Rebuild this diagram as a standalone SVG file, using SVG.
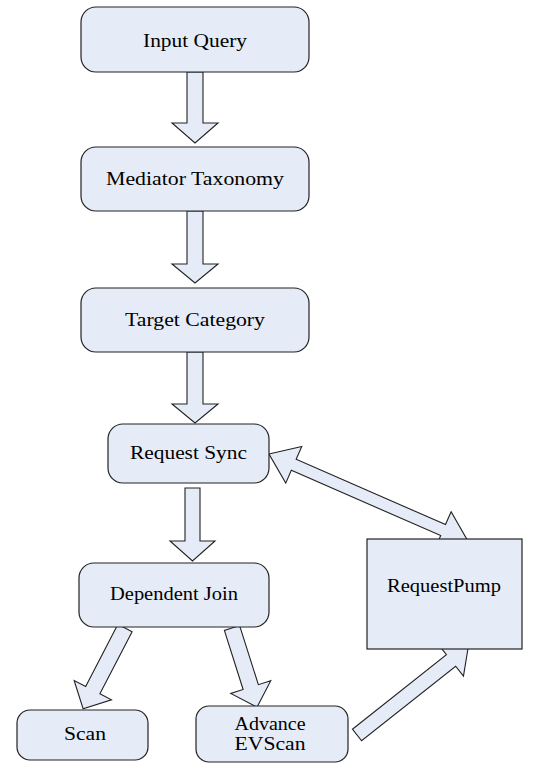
<svg xmlns="http://www.w3.org/2000/svg" width="550" height="763" viewBox="0 0 550 763">
<style>
.box{fill:#e6ecf7;stroke:#222;stroke-width:1.2}
.arr{fill:#e6ecf7;stroke:#222;stroke-width:1.1;stroke-linejoin:miter}
text{font-family:"Liberation Serif","Times New Roman",serif;font-size:18px;fill:#000;text-anchor:middle}
</style>
<rect width="550" height="763" fill="#fff"/>
<g id="connectors">
<polygon class="arr" points="187,72 203,72 203,123 218,123 195,143 172,123 187,123"/>
<polygon class="arr" points="187,211 203,211 203,264 218,264 195,283 172,264 187,264"/>
<polygon class="arr" points="187,352 203,352 203,404 218,404 195,423 172,404 187,404"/>
<polygon class="arr" points="185,488 200,488 200,541 215,541 192.5,561 170,541 185,541"/>
<polygon class="arr" transform="translate(269,454) rotate(23.6)" points="0,0 27,-20 27,-6 190,-6 190,-20 217,0 190,20 190,6 27,6 27,20"/>
<polygon class="arr" transform="translate(125,628) rotate(117.4)" points="0,-8 70,-8 70,-21 91,0 70,21 70,8 0,8"/>
<polygon class="arr" transform="translate(232,628) rotate(72.4)" points="0,-8 62,-8 62,-21 83,0 62,21 62,8 0,8"/>
<polygon class="arr" transform="translate(357,735) rotate(-38.4)" points="0,-7.4 120,-7.4 120,-20 142,0 120,20 120,7.4 0,7.4"/>
</g>
<g id="input-query">
<rect class="box" x="81" y="7" width="228" height="65" rx="15"/>
<text x="195" y="47" textLength="104" lengthAdjust="spacingAndGlyphs">Input Query</text>
</g>
<g id="mediator-taxonomy">
<rect class="box" x="81" y="147" width="228" height="64" rx="15"/>
<text x="195" y="185" textLength="178" lengthAdjust="spacingAndGlyphs">Mediator Taxonomy</text>
</g>
<g id="target-category">
<rect class="box" x="81" y="288" width="228" height="64" rx="15"/>
<text x="195" y="326" textLength="140" lengthAdjust="spacingAndGlyphs">Target Category</text>
</g>
<g id="request-sync">
<rect class="box" x="108" y="424" width="161" height="59" rx="15"/>
<text x="188.5" y="459" textLength="117" lengthAdjust="spacingAndGlyphs">Request Sync</text>
</g>
<g id="dependent-join">
<rect class="box" x="79" y="563" width="190" height="64" rx="15"/>
<text x="174" y="600" textLength="128" lengthAdjust="spacingAndGlyphs">Dependent Join</text>
</g>
<g id="request-pump">
<rect class="box" x="367" y="539" width="155" height="110"/>
<text x="444" y="592" textLength="114" lengthAdjust="spacingAndGlyphs">RequestPump</text>
</g>
<g id="scan">
<rect class="box" x="17" y="710" width="131" height="50" rx="13"/>
<text x="85" y="740" textLength="42" lengthAdjust="spacingAndGlyphs">Scan</text>
</g>
<g id="advance-evscan">
<rect class="box" x="196" y="706" width="152" height="56" rx="13"/>
<text x="270" y="730" textLength="71" lengthAdjust="spacingAndGlyphs">Advance</text>
<text x="270" y="750" textLength="71" lengthAdjust="spacingAndGlyphs">EVScan</text>
</g>
</svg>
